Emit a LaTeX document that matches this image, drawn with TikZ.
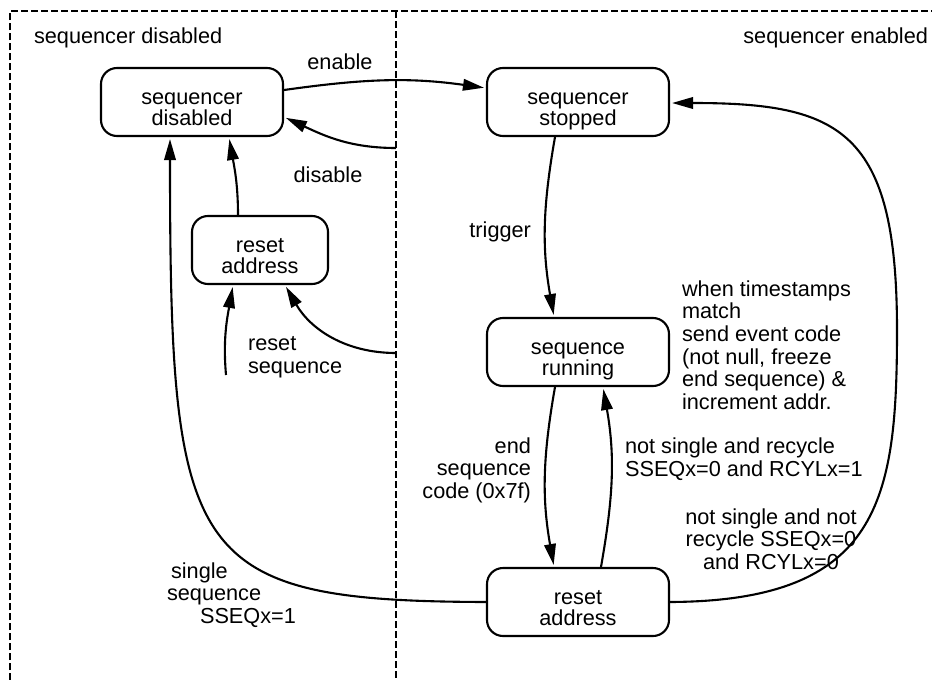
\documentclass[tikz,border=0pt]{standalone}
\usepackage{fontspec}
\setmainfont{Liberation Sans}
\usetikzlibrary{arrows.meta}
\newcommand\twoline[2]{\rule{0pt}{31pt}#1\\#2\rule[-5pt]{0pt}{5pt}}

\begin{document}
\begin{tikzpicture}[x=1pt,y=-1pt,line width=2.1pt,
  font=\fontsize{21.7}{22.6}\selectfont,
  state/.style={draw,rounded corners=16pt,minimum width=182pt,minimum height=68pt,align=center,inner sep=0pt,
    font=\fontsize{21.7}{21}\selectfont},
  lbl/.style={inner sep=0pt},
  tr/.style={-{Triangle[length=21pt,width=11.5pt]},shorten >=2pt},
  frame/.style={line width=1.3pt,dash pattern=on 7pt off 3pt}]
\useasboundingbox (0,0) rectangle (932,680);
\draw[frame] (10,680) -- (10,11) -- (932,11);
\draw[frame] (396,11) -- (396,680);
\node[lbl,anchor=west] at (33,38) {sequencer disabled};
\node[lbl,anchor=east] at (929,38) {sequencer enabled};
% states
\node[state] (dis) at (192,102) {\twoline{sequencer}{disabled}};
\node[state] (stop) at (578,102) {\twoline{sequencer}{stopped}};
\node[state,minimum width=136pt] (rstA) at (260,250) {\twoline{reset}{address}};
\node[state] (run) at (578,352) {\twoline{sequence}{running}};
\node[state] (rstB) at (578,602) {\twoline{reset}{address}};
\coordinate (dB) at (396,148);
\coordinate (rS) at (226,375);
\coordinate (rD) at (396,353);
% transitions
\draw[tr] ([yshift=12pt]dis.east) to[out=8,in=172] ([yshift=14pt]stop.west);
\draw[tr] (dB) to[out=180,in=-25] ([yshift=-15pt]dis.east);
\draw[tr] ([xshift=-22pt]rstA.north) to[out=90,in=-80] ([xshift=37pt]dis.south);
\draw[tr] (rstB.west) .. controls (187,601) and (170,560) .. ([xshift=-22pt]dis.south);
\draw[tr] (rS) to[out=95,in=-100] ([xshift=-27pt]rstA.south);
\draw[tr] (rD) to[out=180,in=-60] ([xshift=25pt]rstA.south);
\draw[tr] ([xshift=-23pt]stop.south) to[out=-100,in=100] ([xshift=-24pt]run.north);
\draw[tr] ([xshift=-23pt]run.south) to[out=-100,in=100] ([xshift=-24pt]rstB.north);
\draw[tr] ([xshift=23pt]rstB.north) to[out=80,in=-80] ([xshift=25pt]run.south);
\draw[tr] (rstB.east) .. controls (880,601) and (897,500) .. (897,330)
  .. controls (897,130) and (840,103) .. ([yshift=-1pt]stop.east);
% labels
\node[lbl] at (340,62) {enable};
\node[lbl] at (328,175) {disable};
\node[lbl,anchor=east] at (532,232) {trigger};
\node[lbl,anchor=west,align=left] at (247,357) {reset\\sequence};
\node[lbl,anchor=west,align=left] at (681,345) {when timestamps\\match\\send event code\\(not null, freeze\\end sequence) \&\\increment addr.};
\node[lbl,anchor=east,align=right] at (532,470) {end\\sequence\\code (0x7f)};
\node[lbl,anchor=west,align=left] at (624,459) {not single and recycle\\SSEQx=0 and RCYLx=1};
\node[lbl,align=center] at (771,539) {not single and not\\recycle SSEQx=0\\and RCYLx=0};
\node[lbl,anchor=west,align=left] at (166,595) {\hspace*{4pt}single\\sequence\\\hspace*{33pt}SSEQx=1};
\end{tikzpicture}
\end{document}
